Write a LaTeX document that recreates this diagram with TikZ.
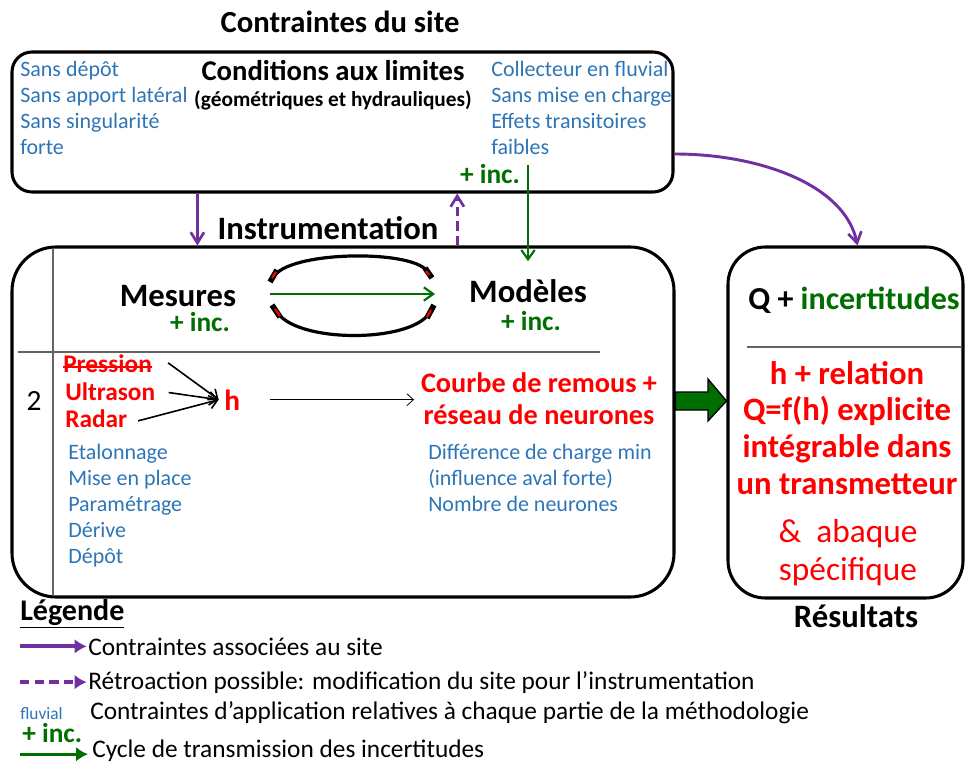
\documentclass[tikz,border=0pt]{standalone}
\usepackage{fontspec}
\setmainfont{Carlito}
\usetikzlibrary{arrows.meta,positioning}

\definecolor{sitepurple}{RGB}{112,48,160}
\definecolor{incgreen}{RGB}{0,110,0}
\definecolor{noteblue}{RGB}{46,117,182}
\definecolor{resred}{RGB}{255,0,0}
\definecolor{rulegray}{RGB}{100,100,100}

\begin{document}
\begin{tikzpicture}[x=0.75pt,y=-0.75pt,
    box/.style={draw,line width=2.3pt,inner sep=0pt},
    note/.style={text=noteblue,font=\fontsize{16.5}{19.5}\selectfont,align=left,inner sep=0pt,anchor=base west},
    heading/.style={font=\bfseries\fontsize{24.5}{28}\selectfont,inner sep=0pt,anchor=base},
    inc/.style={text=incgreen,font=\bfseries\fontsize{20.5}{24}\selectfont,inner sep=0pt,anchor=base},
    capteur/.style={text=resred,font=\bfseries\fontsize{19}{22}\selectfont,inner sep=0pt,anchor=base west},
    resultat/.style={text=resred,font=\bfseries\fontsize{24.5}{27.5}\selectfont,align=center,inner sep=0pt,anchor=base},
    legende/.style={font=\fontsize{19}{22}\selectfont,inner sep=0pt,anchor=base west},
    sitearrow/.style={-{Straight Barb[length=8pt,width=10pt,line width=2pt]},sitepurple,line width=2.2pt},
    retroarrow/.style={sitearrow,dashed,dash pattern=on 7pt off 4pt},
    incarrow/.style={-{Straight Barb[length=7pt,width=10pt,line width=1.6pt]},incgreen,line width=1.6pt},
    hauteurarrow/.style={-{Straight Barb[length=6pt,width=10pt,line width=1.2pt]},line width=1.2pt},
    legarrow/.style={-{Latex[length=9pt,width=11pt]},line width=3pt},
    cyclestub/.style={line width=4.2pt},
    cyclered/.style={resred,line width=1.6pt}
]
\useasboundingbox (0,0) rectangle (966,762);

% les trois cadres
\node[box,rounded corners=15pt,minimum width=495.75pt,minimum height=105pt] (site) at (342.5,122) {};
\node[box,rounded corners=33pt,minimum width=496.5pt,minimum height=262.5pt] (instr) at (343,422) {};
\node[box,rounded corners=28pt,minimum width=176.25pt,minimum height=263.25pt] (result) at (845.5,422.5) {};

% contraintes du site
\node[heading,font=\bfseries\fontsize{23}{27}\selectfont] (sitetitle) at (340,33) {Contraintes du site};
\node[heading,font=\bfseries\fontsize{21.5}{25}\selectfont] (cl) at (333,81) {Conditions aux limites};
\node[heading,font=\bfseries\fontsize{16}{19}\selectfont] (clsub) at (333,107) {(géométriques et hydrauliques)};
\node[note] (siteleft) at (20,155) {Sans dépôt\\Sans apport latéral\\Sans singularité\\forte};
\node[note] (siteright) at (491,155) {Collecteur en fluvial\\Sans mise en charge\\Effets transitoires\\faibles};
\node[inc] (incsite) at (490,184) {+ inc.};

% instrumentation
\node[heading] (instrtitle) at (328,240) {Instrumentation};
\draw[rulegray,line width=0.8pt] (53,249) -- (53,595);
\draw[rulegray,line width=0.8pt] (18,352) -- (600,352);
\node[heading] (mesures) at (178,307) {Mesures};
\node[inc] (incmes) at (200,332) {+ inc.};
\node[heading] (modeles) at (528,303) {Modèles};
\node[inc] (incmod) at (531,331) {+ inc.};

% cycle des incertitudes
\draw[line width=2.4pt] (273,278) .. controls (286,250) and (419,249) .. (428,273);
\draw[line width=2.4pt] (276,310) .. controls (292,344) and (417,344) .. (431,310);
\draw[cyclestub] (270,282) -- (277,270);
\draw[cyclestub] (432,278) -- (425,268);
\draw[cyclestub] (272,305) -- (280,317);
\draw[cyclestub] (434,305) -- (427,318);
\draw[cyclered] (272,278) -- (276,272);
\draw[cyclered] (429,275) -- (426,271);
\draw[cyclered] (275,309) -- (280,316);
\draw[cyclered] (431,310) -- (427,317);
\coordinate (cyclea) at (270,294);
\coordinate (cycleb) at (435,294);
\draw[incarrow] (cyclea) -- (cycleb);

\node[anchor=base,font=\fontsize{22}{26}\selectfont,inner sep=0pt] (niveau) at (34,410) {2};
\node[capteur] (pression) at (63,373) {Pression};
\draw[resred,line width=1.2pt] ([yshift=4.5pt]pression.base west) -- ([yshift=4.5pt]pression.base east);
\node[capteur] (ultrason) at (65,400) {Ultrason};
\node[capteur] (radar) at (65,427) {Radar};
\node[capteur,font=\bfseries\fontsize{22}{24}\selectfont] (hauteur) at (224,410) {h};
\draw[hauteurarrow] ([xshift=12pt,yshift=1pt]pression.east) -- ([xshift=-4pt]hauteur.west);
\draw[hauteurarrow] ([xshift=10pt,yshift=-1pt]ultrason.east) -- ([xshift=-4pt]hauteur.west);
\draw[hauteurarrow] ([xshift=8pt,yshift=-2pt]radar.east) -- ([xshift=-4pt]hauteur.west);
\node[resultat,font=\bfseries\fontsize{21.2}{24}\selectfont] (courbe) at (539,424) {Courbe de remous +\\réseau de neurones};
\draw[-{Straight Barb[length=5pt,width=9pt]},line width=0.6pt] ([xshift=22pt]hauteur.east) -- ([xshift=-5pt]courbe.west |- hauteur.east);
\node[note] (mesnotes) at (68,563) {Etalonnage\\Mise en place\\Paramétrage\\Dérive\\Dépôt};
\node[note] (modnotes) at (428,511) {Différence de charge min\\(influence aval forte)\\Nombre de neurones};

% resultats
\node[heading,font=\bfseries\fontsize{24}{28}\selectfont] (qinc) at (854,310) {Q + \textcolor{incgreen}{incertitudes}};
\draw[rulegray,line width=0.8pt] (747,347) -- (962,347);
\node[resultat] (relation) at (847,494) {h + relation\\Q=f(h) explicite\\intégrable dans\\un transmetteur};
\node[resultat,font=\fontsize{25}{28.5}\selectfont] (abaque) at (848,580) {\&\hspace{0.45em}abaque\\spécifique};
\node[heading] (restitle) at (856,627) {Résultats};

% liaisons
\draw[sitearrow] ([xshift=-15pt]instrtitle.west |- site.south) -- ([xshift=-15pt]instrtitle.west |- instr.north);
\draw[retroarrow] ([xshift=14pt]instrtitle.east |- instr.north) -- ([xshift=14pt]instrtitle.east |- site.south);
\coordinate (incstart) at (528,165);
\draw[incarrow] (incstart) -- ([yshift=14pt]modeles.north -| incstart);
\draw[sitearrow] ([yshift=-24pt]site.east) .. controls (760,154) and (845,185) .. ([xshift=9pt]result.north);
\fill[fill=incgreen,draw=black,line width=1pt] (instr.east |- 0,392) -- (708,392) -- (708,379) -- (result.west |- 0,401) -- (708,421) -- (708,410) -- (instr.east |- 0,410) -- cycle;

% legende
\node[anchor=base west,font=\bfseries\fontsize{22.5}{26}\selectfont,inner sep=0pt] (legtitle) at (20,620) {\underline{Légende}};
\node[legende] (leg1) at (88,655) {Contraintes associées au site};
\draw[legarrow,sitepurple] ([xshift=-51pt]leg1.west) -- ([xshift=-1pt]leg1.west);
\node[legende] (leg2) at (88,689) {Rétroaction possible: modification du site pour l’instrumentation};
\draw[legarrow,sitepurple,dash pattern=on 7pt off 4pt] ([xshift=-51pt]leg2.west) -- ([xshift=-1pt]leg2.west);
\node[note,font=\fontsize{13}{15}\selectfont] (legfluvial) at (20,719) {fluvial};
\node[legende] (leg3) at (90,719) {Contraintes d’application relatives à chaque partie de la méthodologie};
\node[inc,anchor=base west] (leginc) at (22,742) {+ inc.};
\node[legende] (leg4) at (92,757) {Cycle de transmission des incertitudes};
\draw[legarrow,incgreen,line width=2pt] ([xshift=-54pt,yshift=-3pt]leg4.west) -- ([xshift=-3pt,yshift=-3pt]leg4.west);
\end{tikzpicture}
\end{document}
